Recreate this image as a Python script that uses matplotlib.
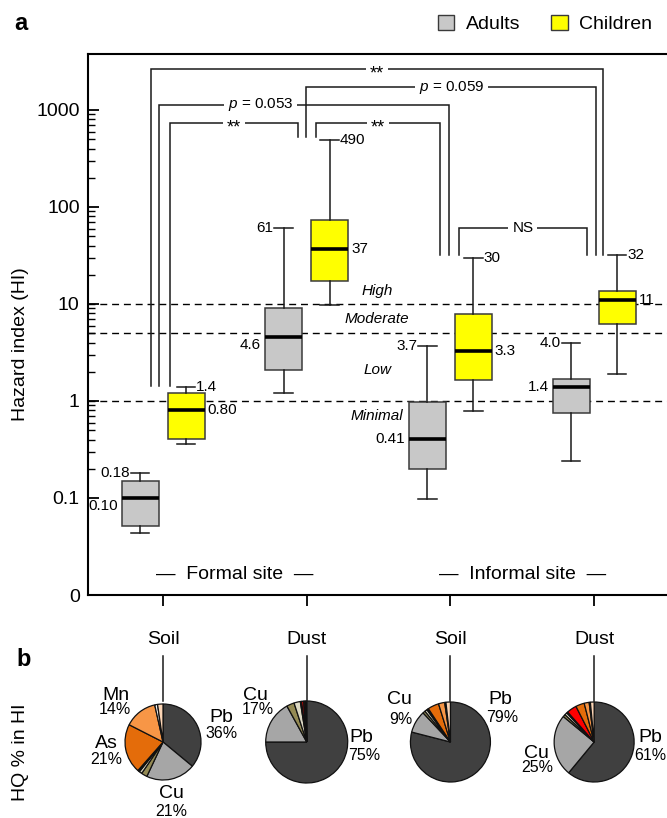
import numpy as np
import matplotlib
matplotlib.use("Agg")
import matplotlib.pyplot as plt
from matplotlib.patches import Patch
from matplotlib.lines import Line2D
from matplotlib.ticker import FixedLocator, NullFormatter

plt.rcParams['font.family'] = ['Liberation Sans', 'DejaVu Sans']
plt.rcParams['mathtext.fontset'] = 'custom'
plt.rcParams['mathtext.it'] = 'Liberation Sans:italic'
plt.rcParams['mathtext.rm'] = 'Liberation Sans'

# ---- data ----
media = ["Soil", "Dust", "Soil", "Dust"]
sites = ["Formal site", "Informal site"]

# hazard index box stats (whisker low, q1, median, q3, whisker high)
adults_lo = [0.044, 1.2, 0.098, 0.24]
adults_q1 = [0.051, 2.1, 0.20, 0.76]
adults_med = [0.10, 4.6, 0.41, 1.4]
adults_q3 = [0.15, 9.0, 0.98, 1.67]
adults_hi = [0.18, 61, 3.7, 4.0]

children_lo = [0.36, 9.7, 0.79, 1.9]
children_q1 = [0.41, 17.3, 1.63, 6.2]
children_med = [0.80, 37, 3.3, 11]
children_q3 = [1.22, 73, 7.9, 13.5]
children_hi = [1.4, 490, 30, 32]

# risk class thresholds and names
risk_limits = [1, 5, 10]
risk_names = ["Minimal", "Low", "Moderate", "High"]
risk_label_y = [0.70, 2.1, 7.0, 13.6]

# HQ contribution (%) of each metal to HI
metals = ["Pb", "Cu", "Zn", "Ni", "Cr", "Cd", "As", "Mn", "Hg", "Co"]
metal_colors = ["#404040", "#a6a6a6", "#948a54", "#ddd9c3", "#262626",
                "#ff0000", "#e46c0a", "#f79646", "#f2f2f2", "#fcd5b5"]
hq_formal_soil = [36, 21, 2.5, 1.2, 0.5, 0.3, 21, 14, 1.2, 2.3]
hq_formal_dust = [75, 17, 3.0, 2.5, 0.5, 0.8, 0.4, 0.4, 0.2, 0.2]
hq_informal_soil = [79, 9, 1.0, 1.0, 0.5, 0.2, 4.5, 2.5, 0.5, 1.8]
hq_informal_dust = [61, 25, 1.0, 1.0, 0.5, 4.0, 3.5, 2.0, 0.5, 1.5]
hq_all = [hq_formal_soil, hq_formal_dust, hq_informal_soil, hq_informal_dust]


def fmt(v):
    if v < 1:
        return f"{v:.2f}"
    if v < 10:
        return f"{v:.1f}"
    return f"{v:.0f}"


W, H = 667, 818
fig = plt.figure(figsize=(W / 100, H / 100), dpi=100)

# main axes (pixel based placement)
ax = fig.add_axes([88 / W, 1 - 595 / H, (W - 88) / W, (595 - 54) / H])
ax.set_yscale('log')
ax.set_ylim(0.01, 3778)
ax.set_xlim(0.478, 4.507)

pos = np.arange(1, len(media) + 1)
off = 0.16
bw = 0.2575

def stats(lo, q1, med, q3, hi):
    return [dict(whislo=a, q1=b, med=c, q3=d, whishi=e, fliers=[])
            for a, b, c, d, e in zip(lo, q1, med, q3, hi)]

common = dict(widths=bw, showfliers=False, patch_artist=True,
              whiskerprops=dict(color='#1a1a1a', lw=1.1),
              capprops=dict(color='#1a1a1a', lw=1.1),
              medianprops=dict(color='black', lw=2.6))
ax.bxp(stats(adults_lo, adults_q1, adults_med, adults_q3, adults_hi),
       positions=pos - off,
       boxprops=dict(facecolor='#c8c8c8', edgecolor='#3a3a3a', lw=1.1), **common)
ax.bxp(stats(children_lo, children_q1, children_med, children_q3, children_hi),
       positions=pos + off,
       boxprops=dict(facecolor='#ffff00', edgecolor='#3a3a3a', lw=1.1), **common)

# value labels: adults on the left, children on the right
vfs = 11
for i in range(len(media)):
    xa = pos[i] - off
    ax.annotate(fmt(adults_hi[i]), (xa - bw / 4, adults_hi[i]), xytext=(-1, 0),
                textcoords='offset pixels', ha='right', va='center', fontsize=vfs)
    dy = -8 if i < 2 else 0
    ax.annotate(fmt(adults_med[i]), (xa - bw / 2, adults_med[i]), xytext=(-4, dy),
                textcoords='offset pixels', ha='right', va='center', fontsize=vfs)
    xc = pos[i] + off
    ax.annotate(fmt(children_hi[i]), (xc + bw / 4, children_hi[i]), xytext=(1, 0),
                textcoords='offset pixels', ha='left', va='center', fontsize=vfs)
    ax.annotate(fmt(children_med[i]), (xc + bw / 2, children_med[i]), xytext=(3, 0),
                textcoords='offset pixels', ha='left', va='center', fontsize=vfs)

# risk class lines
for r in risk_limits:
    ax.axhline(r, color='black', lw=1, ls=(0, (5, 3.5)), zorder=0.5)
for name, y in zip(risk_names, risk_label_y):
    ax.text(2.49, y, name, ha='center', va='center', fontsize=11, style='italic')

# significance brackets: x left, x right, top, left end, right end, label, label x
brackets = [
    (0.917, 4.062, 2650, 1.43, 32, "**", None),
    (1.998, 4.013, 1714, 527, 32, "$p$ = 0.059", None),
    (0.972, 2.990, 1126, 1.43, 32, "$p$ = 0.053", 1.68),
    (1.049, 1.939, 740, 1.43, 527, "**", None),
    (2.065, 2.930, 740, 527, 32, "**", None),
    (3.058, 3.950, 60.3, 32, 32, "NS", None),
]
for x0, x1, top, e0, e1, lab, lx in brackets:
    ax.plot([x0, x0, x1, x1], [e0, top, top, e1], color='#1a1a1a', lw=1.1,
            solid_joinstyle='miter')
    if lx is None:
        lx = (x0 + x1) / 2
    if lab == "**":
        ax.annotate(lab, (lx, top), xytext=(0, -5), textcoords='offset pixels',
                    ha='center', va='center', fontsize=13,
                    bbox=dict(boxstyle='square,pad=0.2', fc='white', ec='none'))
    else:
        ax.annotate(lab, (lx, top), ha='center', va='center', fontsize=11,
                    bbox=dict(boxstyle='square,pad=0.25', fc='white', ec='none'))

# site labels
for k, s in enumerate(sites):
    ax.text(1.5 + 2 * k, 0.037, "\u2014  " + s + "  \u2014", transform=ax.get_xaxis_transform(),
            ha='center', va='center', fontsize=14)

# axes styling
for sp in ['left', 'bottom', 'top']:
    ax.spines[sp].set_linewidth(1.5)
ax.spines['right'].set_visible(False)
ax.set_yticks([0.01, 0.1, 1, 10, 100, 1000])
ax.set_yticklabels(["0", "0.1", "1", "10", "100", "1000"])
minor = [m * 10.0 ** k for k in range(-1, 3) for m in range(2, 10)]
ax.yaxis.set_minor_locator(FixedLocator(minor))
ax.yaxis.set_minor_formatter(NullFormatter())
ax.tick_params(axis='y', which='major', direction='in', length=8, width=1.3,
               labelsize=14, pad=6)
ax.tick_params(axis='y', which='minor', direction='in', length=5, width=1.0)
ax.set_xticks(pos)
ax.set_xticklabels(media)
ax.tick_params(axis='x', direction='out', length=8, width=1.3, labelsize=14, pad=18)

fig.text(21 / W, 1 - 344 / H, "Hazard index (HI)", rotation=90, ha='center',
         va='center', fontsize=14)
fig.text(21 / W, 1 - 24 / H, "a", fontsize=17, fontweight='bold', ha='center', va='center')
fig.text(24 / W, 1 - 660 / H, "b", fontsize=17, fontweight='bold', ha='center', va='center')
fig.text(21 / W, 1 - 752 / H, "HQ % in HI", rotation=90, ha='center',
         va='center', fontsize=14)

handles = [Patch(facecolor='#c8c8c8', edgecolor='#3a3a3a', lw=1),
           Patch(facecolor='#ffff00', edgecolor='#3a3a3a', lw=1)]
fig.legend(handles, ["Adults", "Children"], loc='center', bbox_to_anchor=(545 / W, 1 - 24 / H),
           ncol=2, frameon=False, fontsize=14, handlelength=0.85, handleheight=0.85,
           handletextpad=0.6, columnspacing=1.6)

# ---- panel b: pies ----
pie_cy = 742
pie_r = [38, 41, 40, 40]
# label offsets in pixels from pie centre: (name, value index, name dx, dy, pct dx, dy)
pie_labels = [
    [("Mn", 7, -47, 47, -48, 32), ("As", 6, -57, -1, -57, -18),
     ("Pb", 0, 58, 25, 58, 9), ("Cu", 1, 8, -51, 8, -69)],
    [("Cu", 1, -51, 47, -49, 32), ("Pb", 0, 55, 5, 57, -14)],
    [("Cu", 1, -51, 43, -50, 23), ("Pb", 0, 50, 43, 52, 25)],
    [("Cu", 1, -58, -11, -57, -26), ("Pb", 0, 56, 4, 56, -13)],
]
fig.canvas.draw()
for i in range(len(media)):
    cx = ax.transData.transform((pos[i], 1))[0]
    r = pie_r[i]
    pax = fig.add_axes([(cx - r) / W, (H - pie_cy - r) / H, 2 * r / W, 2 * r / H])
    pax.pie(hq_all[i], colors=metal_colors, startangle=90, counterclock=False,
            radius=1, wedgeprops=dict(edgecolor='#111111', linewidth=0.9))
    pax.set_xlim(-1, 1)
    pax.set_ylim(-1, 1)
    pax.set_aspect('equal')
    pax.axis('off')
    fig.add_artist(Line2D([cx / W, cx / W], [1 - 656 / H, 1 - 701 / H],
                          transform=fig.transFigure, color='#1a1a1a', lw=1.1))
    for name, mi, ndx, ndy, pdx, pdy in pie_labels[i]:
        pax.annotate(name, (0, 0), xytext=(ndx, ndy), textcoords='offset pixels',
                     ha='center', va='center', fontsize=14, annotation_clip=False)
        pax.annotate(f"{hq_all[i][mi]:.0f}%", (0, 0), xytext=(pdx, pdy),
                     textcoords='offset pixels', ha='center', va='center',
                     fontsize=11.5, annotation_clip=False)

fig.savefig("out.png", dpi=100)
